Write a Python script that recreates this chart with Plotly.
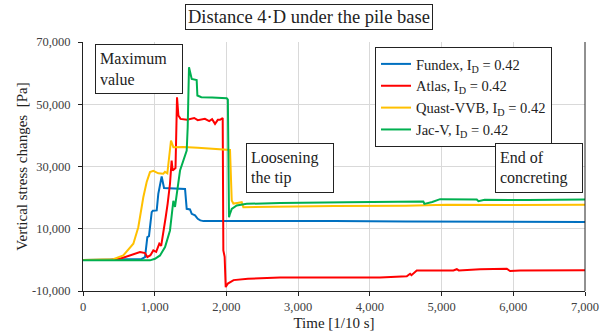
import plotly.graph_objects as go

# ---- data (time in 1/10 s, stress change in Pa) ----
fundex_t = [0, 300, 600, 818, 865, 897, 920, 958, 975, 1028, 1050, 1097, 1130, 1250, 1423, 1446, 1492, 1516, 1562, 1600, 1636, 1680, 2500, 3500, 4500, 5500, 6300, 7000]
fundex_v = [0, 100, 200, 300, 880, 7300, 7600, 15300, 15800, 15900, 21200, 26800, 23100, 22900, 22800, 16400, 16200, 14800, 14300, 13200, 12700, 12450, 12500, 12450, 12300, 12300, 12250, 12200]

atlas_t = [0, 377, 516, 655, 795, 865, 897, 940, 981, 1020, 1064, 1090, 1120, 1153, 1180, 1213, 1236, 1250, 1290, 1311, 1330, 1360, 1450, 1551, 1600, 1700, 1760, 1800, 1841, 1880, 1911, 1948, 1957, 1975, 1990, 2020, 2100, 2300, 2748, 3500, 4142, 4515, 4561, 4580, 4654, 5165, 5212, 5240, 5537, 5909, 5955, 6095, 7000]
atlas_v = [0, 0, 370, 1430, 2490, 2200, 880, 1500, 3040, 2600, 5180, 4500, 8400, 13700, 18000, 24450, 31900, 28700, 29500, 52250, 46400, 45300, 45000, 45600, 44900, 45300, 44600, 45200, 43700, 45000, 45000, 45600, 3040, 1000, -8750, -7600, -6500, -6050, -5700, -5800, -5700, -5300, -4450, -4900, -3400, -3400, -3000, -3400, -3000, -2860, -3600, -3400, -3300]

quast_t = [0, 423, 562, 702, 771, 841, 888, 934, 981, 1050, 1120, 1143, 1176, 1204, 1227, 1260, 1400, 1600, 1800, 2004, 2050, 2074, 2097, 2150, 2213, 2236, 2500, 2748, 3500, 4500, 5072, 6000, 7000]
quast_v = [0, 200, 1430, 5180, 10500, 20100, 25000, 28200, 28600, 27800, 27700, 28300, 27800, 33500, 38350, 36200, 36300, 36000, 35700, 35400, 35300, 19080, 18100, 18300, 18540, 16900, 17000, 17200, 17300, 17400, 17700, 17650, 17700]

jacv_t = [0, 934, 1004, 1074, 1144, 1213, 1260, 1283, 1353, 1446, 1460, 1478, 1516, 1585, 1595, 1650, 1800, 2004, 2020, 2036, 2045, 2074, 2144, 2283, 2748, 3678, 4746, 4760, 4870, 4979, 5491, 5514, 5600, 6200, 7000]
jacv_v = [-150, -150, 370, 1430, 4100, 9450, 19000, 17000, 28700, 35100, 42600, 61900, 58150, 57800, 52800, 52250, 52200, 51900, 51500, 13700, 14500, 16400, 17500, 18000, 18300, 18550, 18750, 18000, 18600, 19500, 19400, 18860, 19300, 19200, 19400]

series_names = ["Fundex, I<sub>D</sub> = 0.42", "Atlas, I<sub>D</sub> = 0.42",
                "Quast-VVB, I<sub>D</sub> = 0.42", "Jac-V, I<sub>D</sub> = 0.42"]
series_colors = ["#0070C0", "#FF0000", "#FFC000", "#00B050"]

x_tickvals = [0, 1000, 2000, 3000, 4000, 5000, 6000, 7000]
x_ticktext = ["0", "1,000", "2,000", "3,000", "4,000", "5,000", "6,000", "7,000"]
y_tickvals = [-10000, 10000, 30000, 50000, 70000]
y_ticktext = ["-10,000", "10,000", "30,000", "50,000", "70,000"]

FONT = "Liberation Serif, Times New Roman, serif"

fig = go.Figure()
for t, v, name, col in zip([fundex_t, atlas_t, quast_t, jacv_t],
                           [fundex_v, atlas_v, quast_v, jacv_v],
                           series_names, series_colors):
    fig.add_trace(go.Scatter(x=t, y=v, mode="lines", name=name,
                             line=dict(color=col, width=2)))

fig.update_layout(
    width=604, height=333,
    margin=dict(l=83, r=19, t=42, b=42, autoexpand=False),
    paper_bgcolor="white", plot_bgcolor="white",
    font=dict(family=FONT, color="#222222"),
    showlegend=True,
    legend=dict(x=0.5817, y=0.98, xanchor="left", yanchor="top",
                bgcolor="white", bordercolor="#222222", borderwidth=1,
                font=dict(family=FONT, size=14.5, color="#222222"),
                itemwidth=30, tracegroupgap=0,
                entrywidth=160, entrywidthmode="pixels"),
    xaxis=dict(range=[0, 7000], tickvals=x_tickvals, ticktext=x_ticktext,
               automargin=False,
               showgrid=True, gridcolor="#d9d9d9", gridwidth=1,
               showline=True, linecolor="#222222", linewidth=1,
               ticks="outside", ticklen=4, tickcolor="#222222",
               tickfont=dict(family=FONT, size=12.5, color="#404040"),
               title=dict(text="Time [1/10 s]", font=dict(family=FONT, size=15, color="#222222"), standoff=4),
               zeroline=False),
    yaxis=dict(range=[-10000, 70000], tickvals=y_tickvals, ticktext=y_ticktext,
               automargin=False, ticklabelstandoff=5,
               showgrid=True, gridcolor="#d9d9d9", gridwidth=1,
               showline=True, linecolor="#222222", linewidth=1,
               ticks="outside", ticklen=4, tickcolor="#222222",
               tickfont=dict(family=FONT, size=12.5, color="#404040"),
               title=dict(text="Vertical stress changes  [Pa]", font=dict(family=FONT, size=15, color="#222222"), standoff=0),
               zeroline=False),
)

# right frame line
fig.add_shape(type="line", xref="paper", yref="paper", x0=1, x1=1, y0=0, y1=1,
              line=dict(color="#222222", width=1))

# title box
fig.add_annotation(text="Distance 4·D under the pile base", xref="paper", yref="paper",
                   x=0.451, y=1.100, xanchor="center", yanchor="middle", showarrow=False,
                   font=dict(family=FONT, size=18.5, color="#222222"),
                   bordercolor="#222222", borderwidth=1, borderpad=2, bgcolor="white")

def box(text, x, y):
    fig.add_annotation(text=text, xref="paper", yref="paper", x=x, y=y,
                       xanchor="center", yanchor="middle", showarrow=False,
                       align="left", width=78, height=40,
                       font=dict(family=FONT, size=16, color="#222222"),
                       bordercolor="#222222", borderwidth=1, borderpad=4, bgcolor="white")

box("Maximum<br>value", 0.112, 0.8917)
box("Loosening<br>the tip", 0.4116, 0.494)
box("End of<br>concreting", 0.9086, 0.494)

fig.write_html("out.html")
